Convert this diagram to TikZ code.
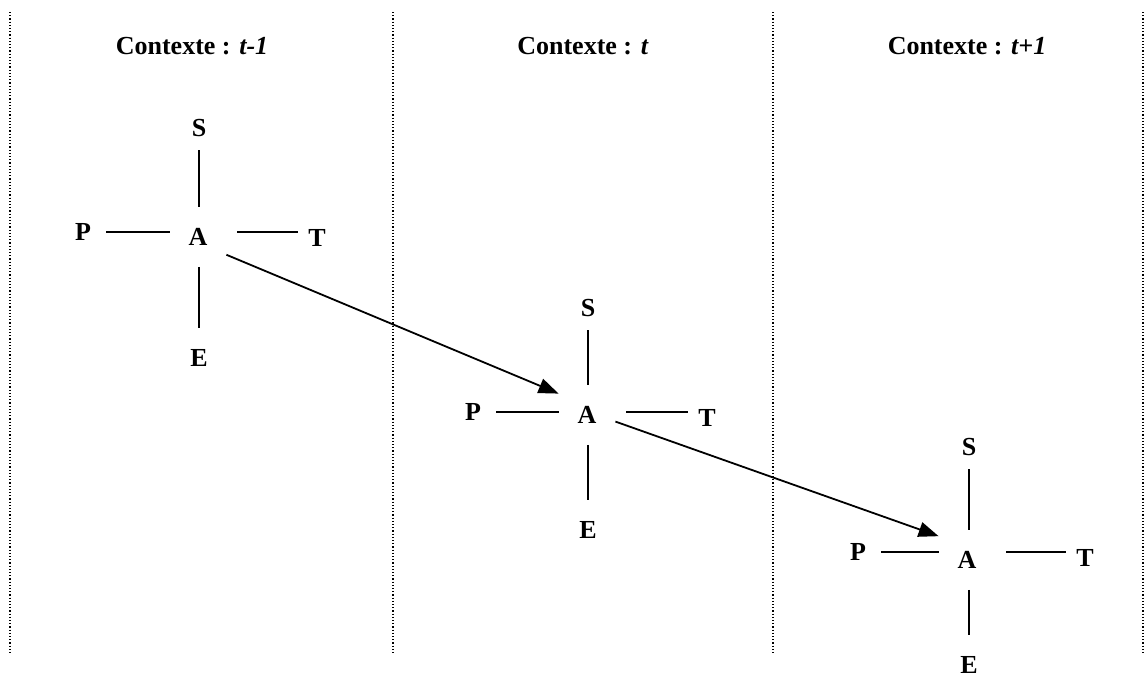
\documentclass[tikz,border=0pt]{standalone}
\usepackage{fontspec}
\setmainfont{Liberation Serif}
\usepackage{tikz}
\usetikzlibrary{arrows.meta,positioning,calc}
\tikzset{
    lettre/.style={
        inner sep=0pt,
        font=\fontsize{13pt}{15pt}\selectfont\bfseries
    },
    centre/.style={lettre, minimum width=28pt, minimum height=29.5pt},
    haut/.style={lettre, minimum height=22pt},
    bas/.style={lettre, minimum height=30pt},
    gauche/.style={lettre, minimum width=23pt},
    droite/.style={lettre, minimum width=19pt},
    titre/.style={lettre},
    trait/.style={line width=0.9pt},
    fleche/.style={-{Triangle[length=10pt,width=7.5pt]}, line width=0.9pt},
    separation/.style={line width=0.6pt, dash pattern=on 0.6pt off 1pt}
}

\begin{document}
\begin{tikzpicture}[x=0.5pt, y=-0.5pt]
        \useasboundingbox (0,0) rectangle (1148,677);

        % colonnes
        \draw[separation] (10,12) -- (10,655);
        \draw[separation] (393,12) -- (393,655);
        \draw[separation] (773,12) -- (773,655);
        \draw[separation] (1143,12) -- (1143,655);

        \node[titre] (titre1) at (192,46) {Contexte : \textit{t-1}};
        \node[titre] (titre2) at (583,46) {Contexte : \textit{t}};
        \node[titre] (titre3) at (967,46) {Contexte : \textit{t+1}};

        % contexte t-1
        \node[centre] (A1) at (198,237) {A};
        \node[haut] (S1) at (199,128) {S};
        \node[bas] (E1) at (199,358) {E};
        \node[gauche] (P1) at (83,232) {P};
        \node[droite] (T1) at (317,238) {T};

        % contexte t
        \node[centre] (A2) at (587,415) {A};
        \node[haut] (S2) at (588,308) {S};
        \node[bas] (E2) at (588,530) {E};
        \node[gauche] (P2) at (473,412) {P};
        \node[droite] (T2) at (707,418) {T};

        % contexte t+1
        \node[centre] (A3) at (967,560) {A};
        \node[haut] (S3) at (969,447) {S};
        \node[bas] (E3) at (969,665) {E};
        \node[gauche] (P3) at (858,552) {P};
        \node[droite] (T3) at (1085,558) {T};

        \draw[trait] (S1) -- (S1 |- A1.north);
        \draw[trait] (S1 |- A1.south) -- (E1);
        \draw[trait] (P1) -- (P1 -| A1.west);
        \draw[trait, shorten <=5.5pt] (P1 -| A1.east) -- (P1 -| T1.west);

        \draw[trait] (S2) -- (S2 |- A2.north);
        \draw[trait] (S2 |- A2.south) -- (E2);
        \draw[trait] (P2) -- (P2 -| A2.west);
        \draw[trait, shorten <=5.5pt] (P2 -| A2.east) -- (P2 -| T2.west);

        \draw[trait] (S3) -- (S3 |- A3.north);
        \draw[trait] (S3 |- A3.south) -- (E3);
        \draw[trait] (P3) -- (P3 -| A3.west);
        \draw[trait, shorten <=5.5pt] (P3 -| A3.east) -- (P3 -| T3.west);

        \draw[fleche] (A1.-32) -- (A2.143);
        \draw[fleche] (A2.-13) -- (A3.140);
    \end{tikzpicture}
\end{document}
